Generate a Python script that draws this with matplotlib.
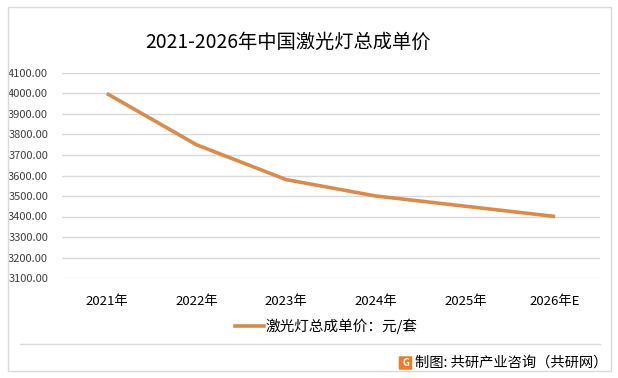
import matplotlib.pyplot as plt
from matplotlib.patches import Rectangle, FancyBboxPatch
from matplotlib.lines import Line2D

plt.rcParams['font.family'] = ['Noto Sans CJK SC', 'DejaVu Sans']

years = ["2021年", "2022年", "2023年", "2024年", "2025年", "2026年E"]
prices = [4000, 3750, 3580, 3500, 3450, 3400]
series_name = "激光灯总成单价：元/套"
title = "2021-2026年中国激光灯总成单价"
source = "制图: 共研产业咨询（共研网）"
yticks = list(range(3100, 4101, 100))

fig = plt.figure(figsize=(6.18, 3.78), dpi=100)
fig.patch.set_facecolor("white")

# outer border
fig.add_artist(Rectangle((8 / 618, 7 / 378), 603 / 618, 364 / 378, transform=fig.transFigure,
                         fill=False, edgecolor="#d9d9d9", linewidth=1))

ax = fig.add_axes([62 / 618, 1 - 278 / 378, 538 / 618, 205 / 378])
x = list(range(len(years)))
ax.plot(x, prices, color="#D98B4C", linewidth=2.6, solid_capstyle="butt")
ax.set_xlim(-0.5, len(years) - 0.5)
ax.set_ylim(3100, 4100)
ax.set_yticks(yticks)
ax.set_yticklabels([f"{v:.2f}" for v in yticks], fontsize=8, color="#404040")
ax.set_xticks(x)
ax.set_xticklabels(years, fontsize=9.5, color="#000000")
ax.tick_params(axis="both", length=0)
ax.tick_params(axis="x", pad=12)
ax.tick_params(axis="y", pad=10)
ax.grid(axis="y", color="#d9d9d9", linewidth=1)
ax.set_axisbelow(True)
for s in ax.spines.values():
    s.set_visible(False)

fig.text(288 / 618, 1 - 42 / 378, title, fontsize=13.9, ha="center", va="center")

# legend
fig.add_artist(Line2D([235 / 618, 264 / 618], [1 - 326 / 378] * 2, transform=fig.transFigure,
                      color="#D98B4C", linewidth=2.6))
fig.text(265 / 618, 1 - 326 / 378, series_name, fontsize=10.5, ha="left", va="center")

# footer
fig.add_artist(Line2D([20 / 618, 600 / 618], [1 - 344 / 378] * 2, transform=fig.transFigure,
                      color="#d9d9d9", linewidth=1))
fig.add_artist(FancyBboxPatch((400 / 618, 1 - 369 / 378), 11 / 618, 12 / 378, transform=fig.transFigure,
                              boxstyle="round,pad=0.002", facecolor="#F07A2A", edgecolor="none"))
fig.text(405.5 / 618, 1 - 363 / 378, "G", fontsize=7, color="white", fontweight="bold",
         ha="center", va="center")
fig.text(415 / 618, 1 - 363 / 378, source, fontsize=10.3, ha="left", va="center")

fig.savefig("out.png", dpi=100)
